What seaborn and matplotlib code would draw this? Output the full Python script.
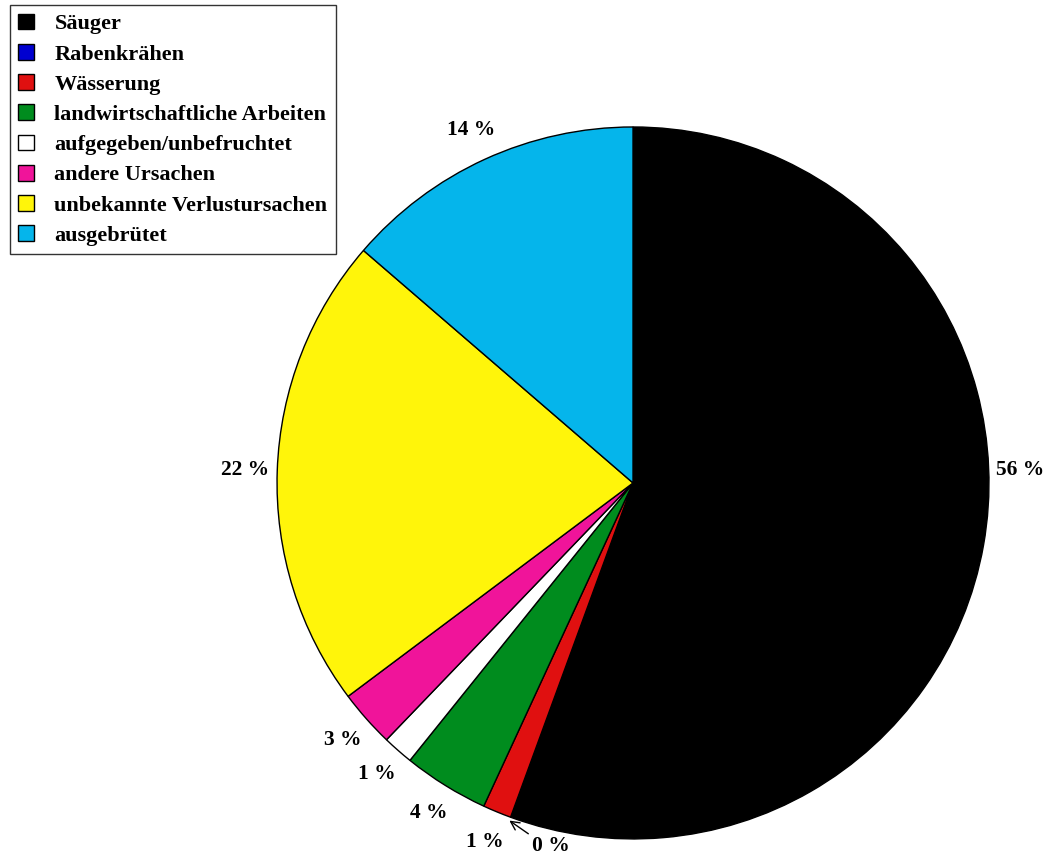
import numpy as np
import matplotlib
matplotlib.use("Agg")
import matplotlib.pyplot as plt
import seaborn as sns

# Shares of nest outcomes (percent)
categories = [
    "Säuger",
    "Rabenkrähen",
    "Wässerung",
    "landwirtschaftliche Arbeiten",
    "aufgegeben/unbefruchtet",
    "andere Ursachen",
    "unbekannte Verlustursachen",
    "ausgebrütet",
]
shares = [55.7, 0.0, 1.3, 3.9, 1.4, 2.6, 21.6, 13.7]
slice_colors = ["#000000", "#0000d0", "#e01010", "#008c1e",
                "#ffffff", "#f0149a", "#fff50a", "#05b5eb"]

sns.set_theme(style="white")
plt.rcParams["font.family"] = ["Liberation Serif", "DejaVu Serif"]
plt.rcParams["font.weight"] = "bold"
plt.rcParams["text.color"] = "black"

palette = sns.color_palette(slice_colors)

fig = plt.figure(figsize=(10.47, 8.56), dpi=100)
fig.patch.set_facecolor("white")
ax = fig.add_axes([0.2646, 0.0199, 0.680, 0.8318])

wedges, _ = ax.pie(
    shares,
    colors=palette,
    startangle=90,
    counterclock=False,
    radius=1.0,
    wedgeprops=dict(edgecolor="black", linewidth=1.0),
)
ax.set_xlim(-1, 1)
ax.set_ylim(-1, 1)
ax.axis("off")

LABEL_SIZE = 15.5

# Percentage labels around the rim
label_dist = 1.09
for i, (w, v) in enumerate(zip(wedges, shares)):
    txt = f"{v:.0f} %"
    mid = np.deg2rad((w.theta1 + w.theta2) / 2)
    if i == 0:
        # large slice: label beside the right edge
        ax.text(1.087, 0.037, txt, ha="center", va="center",
                fontsize=LABEL_SIZE, fontweight="bold", color="black")
    elif v == 0:
        # empty slice: label pulled aside with an arrow to its edge
        edge = np.deg2rad(w.theta1)
        tip = (1.01 * np.cos(edge), 1.01 * np.sin(edge))
        lab_ang = edge + np.deg2rad(4.5)
        pos = (1.058 * np.cos(lab_ang), 1.058 * np.sin(lab_ang))
        ax.annotate(txt, xy=tip, xytext=pos, ha="left", va="center",
                    fontsize=LABEL_SIZE, fontweight="bold", color="black",
                    arrowprops=dict(arrowstyle="->", color="black", lw=1.0,
                                    shrinkA=0, shrinkB=0,
                                    relpos=(0.1, 0.85)))
    else:
        ax.text(label_dist * np.cos(mid), label_dist * np.sin(mid), txt,
                ha="center", va="center", fontsize=LABEL_SIZE,
                fontweight="bold", color="black")

leg = fig.legend(
    wedges, categories,
    loc="upper left",
    bbox_to_anchor=(0.0095, 0.994),
    fontsize=16,
    frameon=True,
    fancybox=False,
    edgecolor="black",
    handlelength=0.72,
    handleheight=0.72,
    handletextpad=0.9,
    labelspacing=0.43,
    borderpad=0.38,
    borderaxespad=0.0,
)
leg.get_frame().set_linewidth(1.0)
for t in leg.get_texts():
    t.set_fontweight("bold")
    t.set_color("black")

fig.savefig("out.png", dpi=100, facecolor="white")
